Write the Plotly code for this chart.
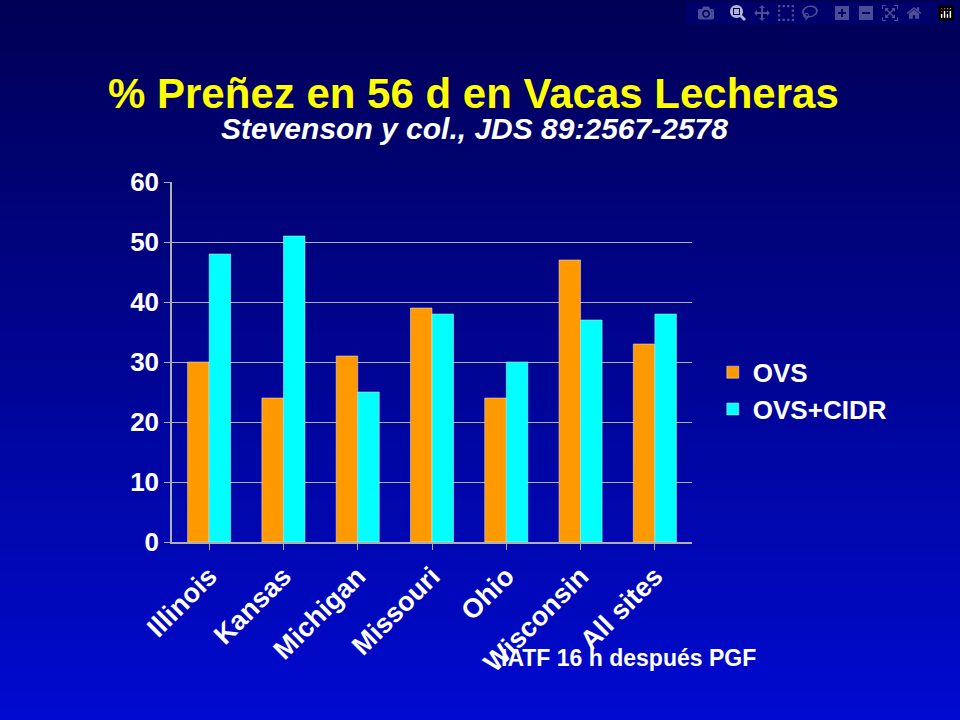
import plotly.graph_objects as go

sites = ["Illinois", "Kansas", "Michigan", "Missouri", "Ohio", "Wisconsin", "All sites"]
ovs = [30, 24, 31, 39, 24, 47, 33]
ovs_cidr = [48, 51, 25, 38, 30, 37, 38]
y_ticks = [0, 10, 20, 30, 40, 50, 60]

fig = go.Figure([
    go.Bar(name="OVS", x=sites, y=ovs, marker_color="#FF9900"),
    go.Bar(name="OVS+CIDR", x=sites, y=ovs_cidr, marker_color="#00FFFF"),
])

# vertical gradient background built from thin bands
n = 72
shapes = []
for i in range(n):
    t = i / (n - 1)
    r, g, b = 0, int(0 + 10 * t), int(0x55 + (0xD0 - 0x55) * t)
    shapes.append(dict(type="rect", xref="paper", yref="paper",
                       x0=-1, x1=2, y0=1 + 182 / 360 - (i + 1) * (720 / 360) / n,
                       y1=1 + 182 / 360 - i * (720 / 360) / n,
                       fillcolor=f"rgb({r},{g},{b})", line_width=0, layer="below"))

fam = "Liberation Sans, Arial"
fig.update_layout(
    width=960, height=720,
    margin=dict(l=172, r=268, t=182, b=178),
    paper_bgcolor="#000080", plot_bgcolor="rgba(0,0,0,0)",
    shapes=shapes, barmode="group", bargap=0.42, bargroupgap=0,
    font=dict(family=fam, color="white"),
    legend=dict(x=1.04, y=0.42, yanchor="middle", bgcolor="rgba(0,0,0,0)",
                font=dict(size=26, family=fam, color="white", weight="bold")),
    annotations=[
        dict(text="<b>% Preñez en 56 d en Vacas Lecheras</b>", xref="paper", yref="paper",
             x=(473 - 172) / 520, y=1 + (182 - 68) / 360, showarrow=False,
             font=dict(size=42, color="#FFFF00", family=fam)),
        dict(text="<b><i>Stevenson y col., JDS 89:2567-2578</i></b>", xref="paper", yref="paper",
             x=(474 - 172) / 520, y=1 + (182 - 110) / 360, showarrow=False,
             font=dict(size=30, color="white", family=fam)),
        dict(text="<b>IATF 16 h después PGF</b>", xref="paper", yref="paper",
             x=(758 - 172) / 520, y=-(673 - 542) / 360, showarrow=False,
             font=dict(size=23, color="white", family=fam)),
    ],
)
fig.update_xaxes(tickangle=-45, tickfont=dict(size=27, weight="bold"),
                 showline=True, linecolor="#B0B0B0", linewidth=1.5,
                 ticks="outside", ticklen=6, tickcolor="#B0B0B0")
fig.update_yaxes(range=[0, 60], tickvals=y_ticks, tickfont=dict(size=26, weight="bold"),
                 showgrid=True, gridcolor="#B0B0B0", gridwidth=1.2,
                 showline=True, linecolor="#B0B0B0", linewidth=1.5,
                 ticks="outside", ticklen=6, tickcolor="#B0B0B0", zeroline=False)

fig.write_html("out.html", post_script="document.body.style.margin='0';")
